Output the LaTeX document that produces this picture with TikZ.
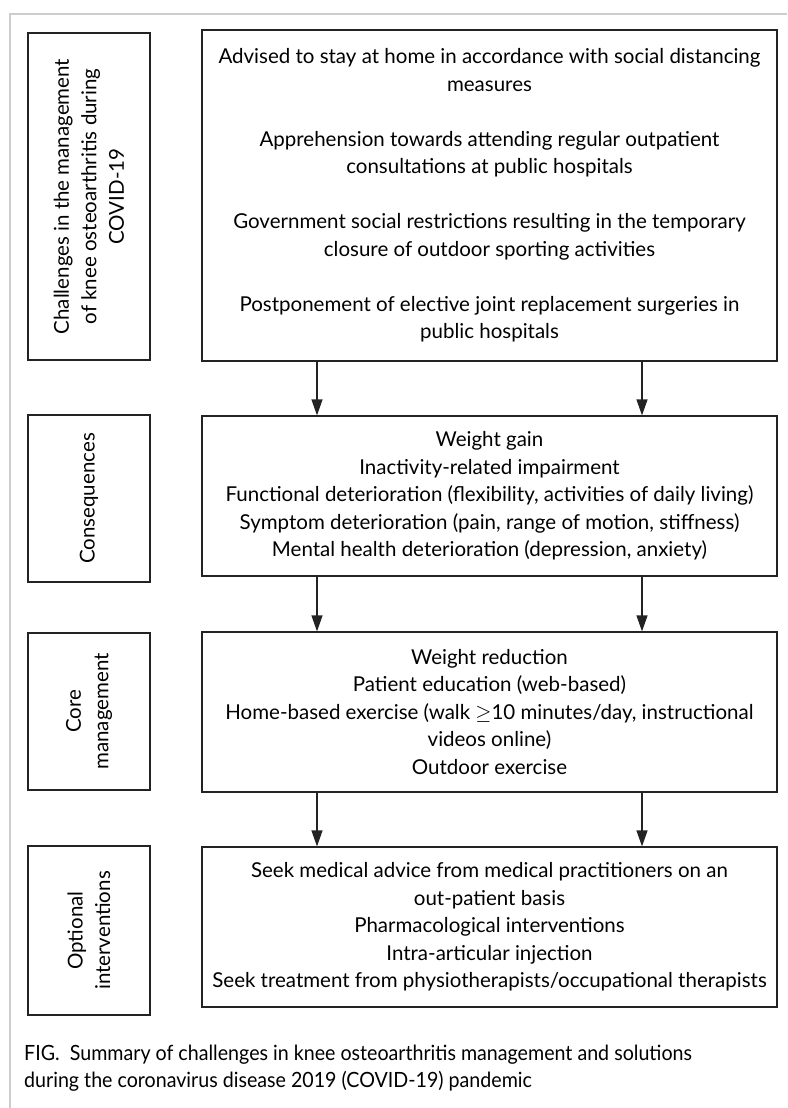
\documentclass[tikz,border=0pt]{standalone}
\usepackage{fontspec}
\setmainfont{Lato}
\newfontfamily\capfont[FakeStretch=0.935]{Lato}
\usepackage{xcolor}
\definecolor{figframe}{RGB}{205,205,205}
\definecolor{figline}{RGB}{35,35,35}
\usepackage{tikz}
\usetikzlibrary{positioning,arrows.meta}
\tikzset{
  stage/.style   ={rectangle,draw=figline,line width=1.2pt,align=center,
                   minimum width=575pt,minimum height=160pt,inner sep=0pt,
                   font=\fontsize{20.5}{27.5}\selectfont},
  tag/.style     ={rectangle,draw=figline,line width=1.2pt,align=center,rotate=90,
                   minimum height=122pt,inner sep=0pt,
                   font=\fontsize{20.5}{27.5}\selectfont},
  flow/.style    ={-{Triangle[length=16pt,width=11pt]},line width=1.2pt,draw=figline},
}

\begin{document}
\begin{tikzpicture}[x=1pt,y=-1pt]
  \useasboundingbox (0,0) rectangle (787,1108);
  \draw[figframe,line width=1.3pt] (787,14) -- (10,14) -- (10,1108);
  % left column
  \node[tag,minimum width=327pt] (tchal) at (89,196.5)
    {Challenges in the management\\of knee osteoarthritis during\\COVID-19};
  \node[tag,minimum width=167pt] (tcons) at (89,498.5) {Consequences};
  \node[tag,minimum width=157pt] (tcore) at (89,711.5) {Core\\management};
  \node[tag,minimum width=169pt] (topt) at (89,930.5) {Optional\\interventions};
  % right column
  \node[stage,minimum height=331pt] (chal) at (489.5,195.5)
    {Advised to stay at home in accordance with social distancing\\measures\\[27.5pt]
     Apprehension towards attending regular outpatient\\consultations at public hospitals\\[27.5pt]
     Government social restrictions resulting in the temporary\\closure of outdoor sporting activities\\[27.5pt]
     Postponement of elective joint replacement surgeries in\\public hospitals};
  \node[stage] (cons) at (489.5,496)
    {Weight gain\\Inactivity-related impairment\\
     Functional deterioration (flexibility, activities of daily living)\\
     Symptom deterioration (pain, range of motion, stiffness)\\
     Mental health deterioration (depression, anxiety)};
  \node[stage] (core) at (489.5,712)
    {Weight reduction\\Patient education (web-based)\\
     Home-based exercise (walk $\geq$10 minutes/day, instructional\\
     videos online)\\Outdoor exercise};
  \node[stage] (opt) at (489.5,927)
    {Seek medical advice from medical practitioners on an\\out-patient basis\\
     Pharmacological interventions\\Intra-articular injection\\
     Seek treatment from physiotherapists/occupational therapists};
  \draw[flow] ([xshift=-172.5pt]chal.south) -- ([xshift=-172.5pt]cons.north);
  \draw[flow] ([xshift=152.5pt]chal.south) -- ([xshift=152.5pt]cons.north);
  \draw[flow] ([xshift=-172.5pt]cons.south) -- ([xshift=-172.5pt]core.north);
  \draw[flow] ([xshift=152.5pt]cons.south) -- ([xshift=152.5pt]core.north);
  \draw[flow] ([xshift=-172.5pt]core.south) -- ([xshift=-172.5pt]opt.north);
  \draw[flow] ([xshift=152.5pt]core.south) -- ([xshift=152.5pt]opt.north);
  % caption
  \node[anchor=west,align=left,inner sep=0pt,font=\capfont\fontsize{21}{27}\selectfont] (caption) at (24,1068)
    {FIG.\ \ Summary of challenges in knee osteoarthritis management and solutions\\
     during the coronavirus disease 2019 (COVID-19) pandemic};
\end{tikzpicture}
\end{document}
